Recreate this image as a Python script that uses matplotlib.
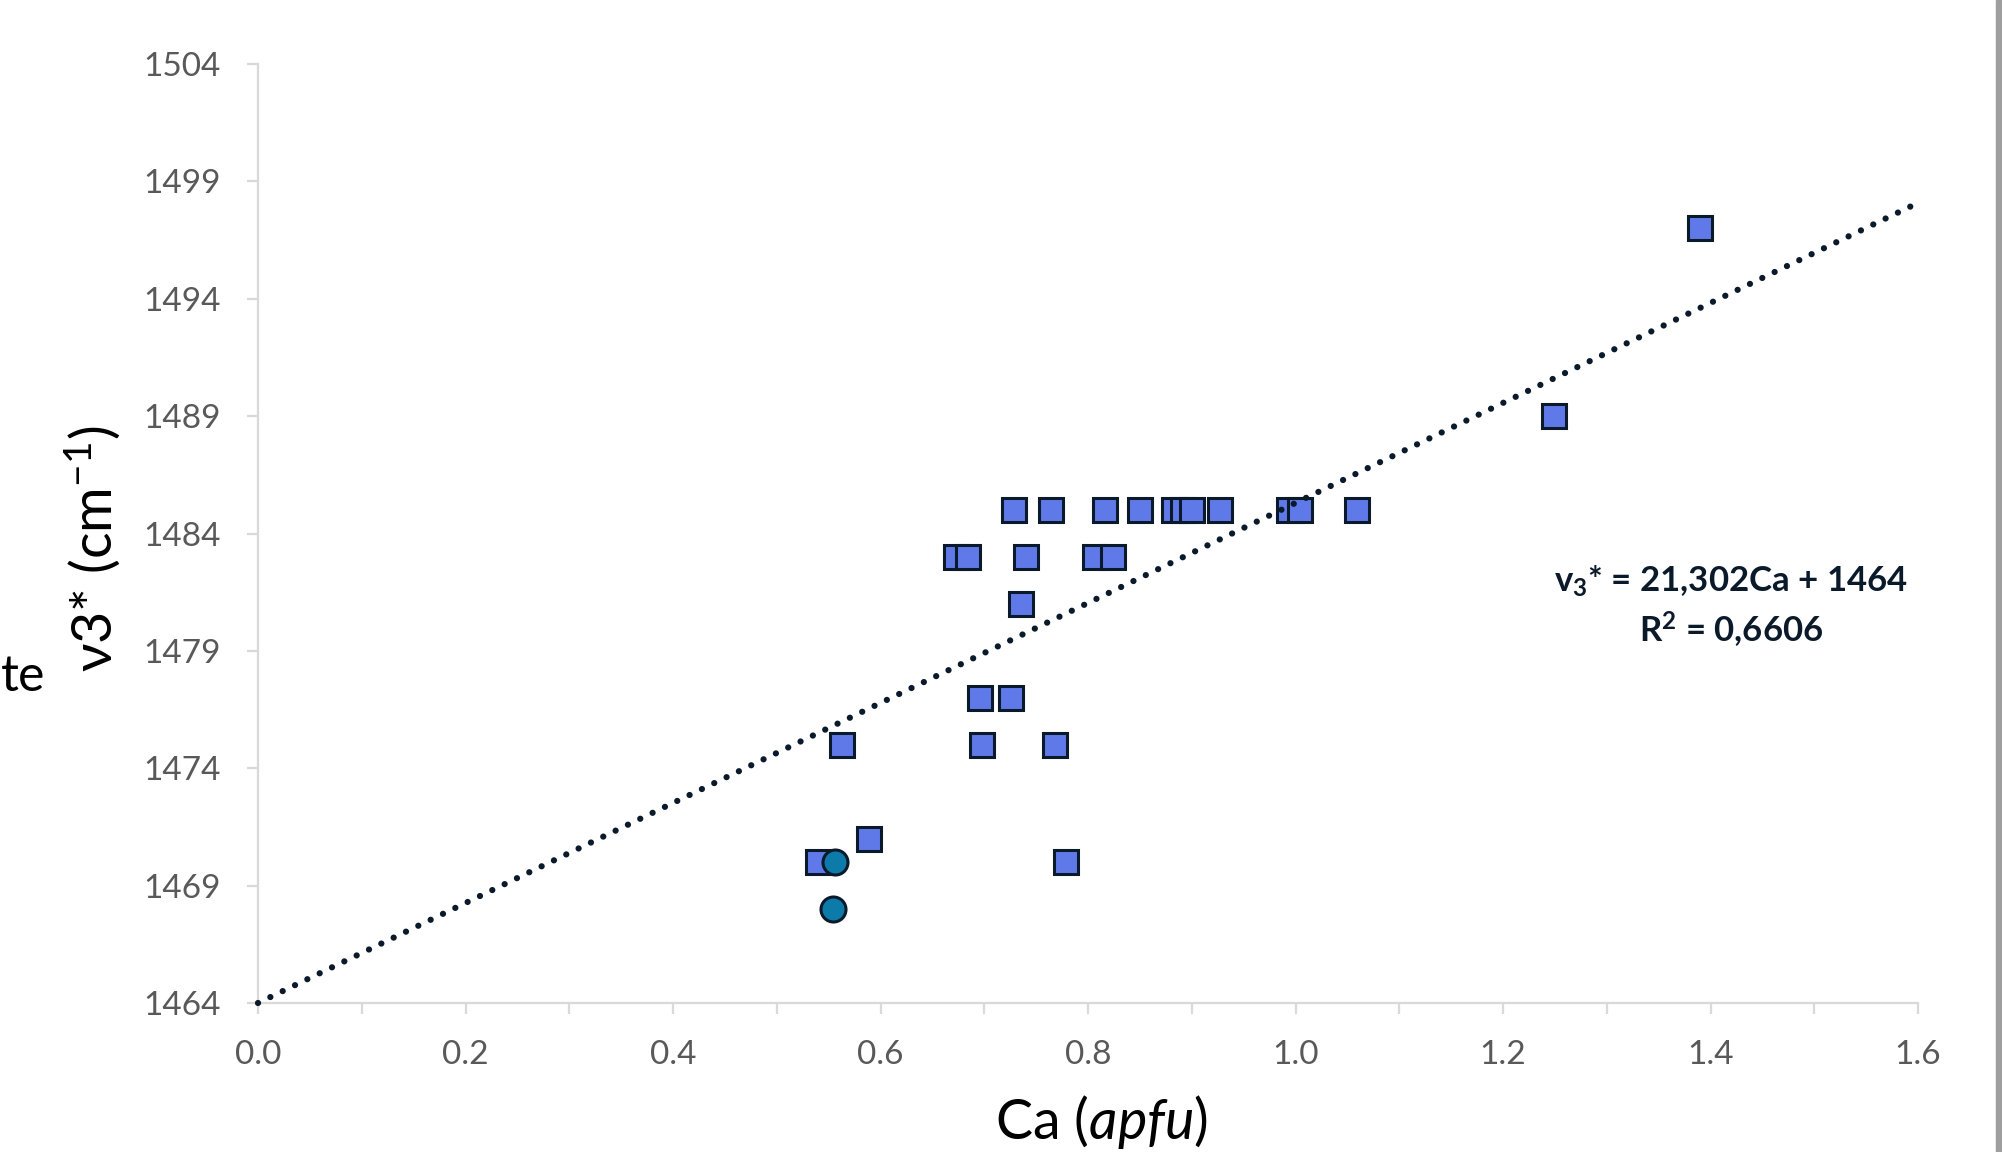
import matplotlib

matplotlib.use("Agg")
import matplotlib.pyplot as plt
import numpy as np
from matplotlib.patches import Rectangle
from matplotlib.ticker import MultipleLocator

# squares (main series)
ca_sq = [1.390, 1.249,
         0.7285, 0.764, 0.816, 0.850, 0.883, 0.892, 0.900, 0.927, 0.994, 1.004, 1.059,
         0.673, 0.6845, 0.740, 0.807, 0.824,
         0.7355,
         0.6955, 0.7255,
         0.563, 0.698, 0.768,
         0.589,
         0.540, 0.779]
nu_sq = [1497, 1489,
         1485, 1485, 1485, 1485, 1485, 1485, 1485, 1485, 1485, 1485, 1485,
         1483, 1483, 1483, 1483, 1483,
         1481,
         1477, 1477,
         1475, 1475, 1475,
         1471,
         1470, 1470]

# circles (second series)
ca_circ = [0.556, 0.554]
nu_circ = [1470, 1468]

# trendline as printed on the chart
slope = 21.302
intercept = 1464
eq_text = r"v$_\mathbf{3}$* = 21,302Ca + 1464"
r2_text = r"R$^\mathbf{2}$ = 0,6606"

y_ticks = [1464, 1469, 1474, 1479, 1484, 1489, 1494, 1499, 1504]

plt.rcParams["font.family"] = ["Lato", "DejaVu Sans"]
plt.rcParams["mathtext.fontset"] = "custom"
plt.rcParams["mathtext.rm"] = "Lato"
plt.rcParams["mathtext.it"] = "Lato:italic"
plt.rcParams["mathtext.bf"] = "Lato:bold"

W, H = 2002, 1152
fig = plt.figure(figsize=(W / 100, H / 100), dpi=100)
ax = fig.add_axes([258 / W, 1 - 1003 / H, (1918 - 258) / W, (1003 - 64) / H])

axis_grey = "#D9D9D9"
dark = "#0B1A2B"

xs = np.array([0.0, 1.6])
ax.plot(xs, slope * xs + intercept, color=dark, lw=4.5,
        linestyle=(0, (0.01, 2.18)), dash_capstyle="round", zorder=5, clip_on=False)
ax.plot(ca_sq, nu_sq, "s", ms=17.5, mfc="#6079E8", mec=dark, mew=2.2, zorder=3, clip_on=False)
ax.plot(ca_circ, nu_circ, "o", ms=18, mfc="#0C7BAA", mec=dark, mew=2.2, zorder=4, clip_on=False)

ax.text(1.42, 1481.95, eq_text, ha="center", va="center", fontsize=25,
        fontweight="bold", color=dark)
ax.text(1.42, 1479.9, r2_text, ha="center", va="center", fontsize=25,
        fontweight="bold", color=dark)

ax.set_xlim(0, 1.6)
ax.set_ylim(1464, 1504)
ax.xaxis.set_major_locator(MultipleLocator(0.2))
ax.xaxis.set_minor_locator(MultipleLocator(0.1))
ax.set_yticks(y_ticks)
ax.xaxis.set_major_formatter(matplotlib.ticker.FormatStrFormatter("%.1f"))

for side in ("top", "right"):
    ax.spines[side].set_visible(False)
for side in ("left", "bottom"):
    ax.spines[side].set_color(axis_grey)
    ax.spines[side].set_linewidth(1.6)

ax.tick_params(which="both", direction="out", color=axis_grey, width=1.6, length=8,
               labelcolor="#595959", labelsize=24)
ax.tick_params(axis="y", pad=19)
ax.tick_params(axis="x", which="both", pad=19)

ax.set_xlabel(r"Ca ($\mathit{apfu}$)", fontsize=40, color="black")
ax.set_ylabel("ν3* (cm$^{-1}$)", fontsize=40, color="black")
ax.xaxis.set_label_coords((1101 - 258) / (1918 - 258), -(1093 - 1003) / (1003 - 64))
ax.yaxis.set_label_coords(-(258 - 122) / (1918 - 258), (1003 - 549) / (1003 - 64))

# cut-off label at the left edge and the grey frame edge at the right
fig.text(1 / W, 1 - 677 / H, "te", ha="left", va="center", fontsize=36, color="black")
fig.patches.append(Rectangle((1996 / W, 0), 6 / W, 1, transform=fig.transFigure,
                             color="#9E9E9E", zorder=0))

fig.savefig("out.png", dpi=100)
